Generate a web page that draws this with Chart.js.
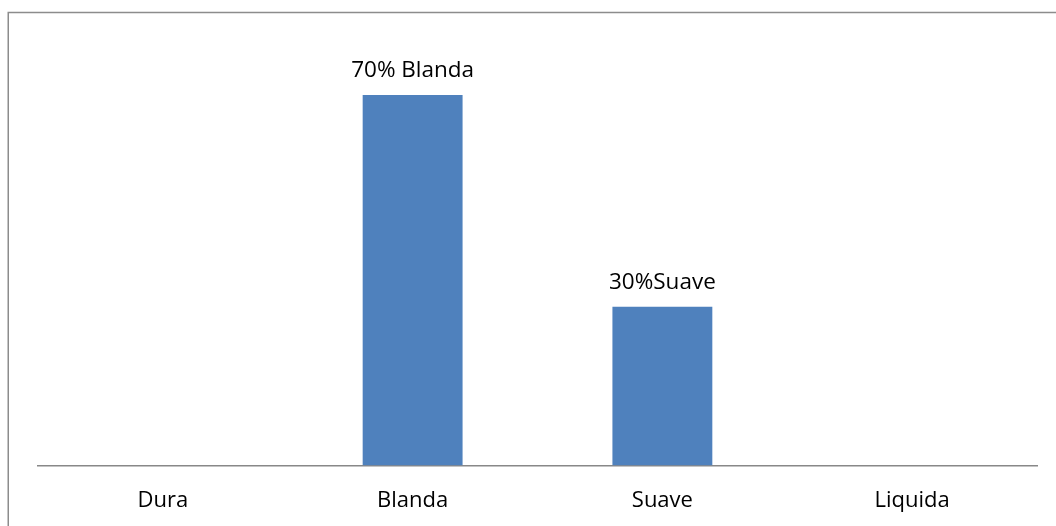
<!DOCTYPE html>
<html>
<head>
<meta charset="utf-8">
<style>
  html, body { margin: 0; padding: 0; background: #ffffff; }
  canvas { display: block; }
</style>
<script src="https://cdn.jsdelivr.net/npm/chart.js@4/dist/chart.umd.min.js"></script>
</head>
<body>
<canvas id="chart" width="1056" height="526"></canvas>
<script>
// Water types and their share
const categories = ["Dura", "Blanda", "Suave", "Liquida"];
const shares = [0, 70, 30, 0];
const barLabels = ["", "70% Blanda", "30%Suave", ""];

const FONT = '"Open Sans", "Noto Sans", sans-serif';

// Frame lines along the top and left edge of the figure
const framePlugin = {
  id: 'frame',
  beforeDraw(chart) {
    const ctx = chart.ctx;
    ctx.save();
    ctx.strokeStyle = '#8c8c8c';
    ctx.lineWidth = 1.5;
    ctx.beginPath();
    ctx.moveTo(8.25, chart.height);
    ctx.lineTo(8.25, 12.5);
    ctx.lineTo(chart.width, 12.5);
    ctx.stroke();
    ctx.restore();
  }
};

// Text above each bar
const barTextPlugin = {
  id: 'barText',
  afterDatasetsDraw(chart) {
    const ctx = chart.ctx;
    const meta = chart.getDatasetMeta(0);
    ctx.save();
    ctx.fillStyle = '#000000';
    ctx.font = '22.5px ' + FONT;
    ctx.textAlign = 'center';
    ctx.textBaseline = 'alphabetic';
    meta.data.forEach((bar, i) => {
      const txt = barLabels[i];
      if (!txt) return;
      ctx.fillText(txt, bar.x, bar.y - 18);
    });
    ctx.restore();
  }
};

new Chart(document.getElementById('chart'), {
  type: 'bar',
  data: {
    labels: categories,
    datasets: [{
      data: shares,
      backgroundColor: '#4f81bd',
      borderWidth: 0,
      barPercentage: 0.4,
      categoryPercentage: 1.0
    }]
  },
  options: {
    responsive: false,
    animation: false,
    layout: { padding: { left: 38, right: 19, top: 42, bottom: 12 } },
    plugins: {
      legend: { display: false },
      tooltip: { enabled: false }
    },
    scales: {
      x: {
        grid: { display: false, drawTicks: false },
        border: { display: true, color: '#888888', width: 1.5 },
        ticks: {
          color: '#000000',
          padding: 22,
          font: { family: FONT, size: 22 }
        },
        afterFit(scale) { scale.height = 48.5; }
      },
      y: {
        display: false,
        min: 0,
        max: 80
      }
    }
  },
  plugins: [framePlugin, barTextPlugin]
});
</script>
</body>
</html>
